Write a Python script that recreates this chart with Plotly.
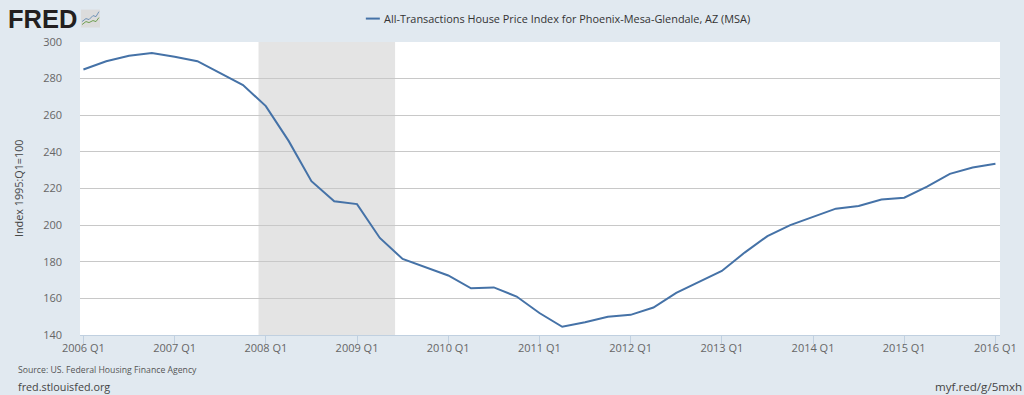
import plotly.graph_objects as go

years = list(range(2006, 2017))
quarters = [f"{y} Q{q}" for y in years for q in (1, 2, 3, 4)][:41]
values = [285, 289.5, 292.5, 294,
          292, 289.5, 283, 276.5,
          265, 246, 224, 213,
          211.5, 193, 181.5, 177,
          172.5, 165.5, 166, 161,
          152, 144.5, 147, 150,
          151, 155, 163, 169,
          175, 185, 194, 200,
          204.5, 209, 210.5, 214,
          215, 221, 228, 231.5,
          233.5]
tick_labels = [f"{y} Q1" for y in years]
y_ticks = [140, 160, 180, 200, 220, 240, 260, 280, 300]
recession_start = 7.68
recession_end = 13.67
series_name = "All-Transactions House Price Index for Phoenix-Mesa-Glendale, AZ (MSA)"

W, H = 1024, 395
L, R, T, B = 80, 1000.5, 41.5, 335.5
FONT = "Open Sans"
BG = "#e1e9f0"

fig = go.Figure()
fig.add_trace(go.Scatter(x=quarters, y=values, mode="lines", name=series_name,
                         line=dict(color="#4572a7", width=2), showlegend=False))

fig.add_shape(type="rect", xref="x", yref="paper", x0=recession_start, x1=recession_end, y0=0, y1=1,
              fillcolor="#e4e4e4", line_width=0, layer="below")

# legend key + title
fig.add_shape(type="line", xref="paper", yref="paper",
              x0=(366 - L) / (R - L), x1=(380 - L) / (R - L),
              y0=(B - 18) / (B - T), y1=(B - 18) / (B - T),
              line=dict(color="#4572a7", width=2))
def ann(text, px, py, size, color, anchor="left", **kw):
    fig.add_annotation(text=text, xref="paper", yref="paper",
                       x=(px - L) / (R - L), y=(B - py) / (B - T),
                       xanchor=anchor, yanchor="middle", showarrow=False,
                       font=dict(family=kw.pop("family", FONT), size=size, color=color), **kw)

ann(series_name, 382, 18, 10.9, "#333333")
ann("<b>FRED</b>", 6, 18, 25.5, "#231f20", family="Liberation Sans")
ann("Source: US. Federal Housing Finance Agency", 16, 371, 8.7, "#555555")
ann("fred.stlouisfed.org", 16, 387, 10.8, "#444444")
ann("myf.red/g/5mxh", 1025, 387, 11.6, "#444444", anchor="right")
ann("Index 1995:Q1=100", 18, 188, 10.8, "#444444", textangle=-90, anchor="center")

# FRED logo icon
fig.add_shape(type="rect", xref="paper", yref="paper",
              x0=(81 - L) / (R - L), x1=(100 - L) / (R - L),
              y0=(B - 27) / (B - T), y1=(B - 9) / (B - T),
              fillcolor="#dcdcdc", line_width=0, layer="above")
def icon_path(pts):
    return "M " + " L ".join(f"{(x - L) / (R - L):.4f},{(B - y) / (B - T):.4f}" for x, y in pts)
fig.add_shape(type="path", xref="paper", yref="paper", path=icon_path([(82, 21), (86, 18), (89, 19), (93, 15), (96, 16), (99, 11)]),
              line=dict(color="#6f93b8", width=1))
fig.add_shape(type="path", xref="paper", yref="paper", path=icon_path([(82, 24), (86, 21), (89, 22), (93, 20), (96, 21), (99, 17)]),
              line=dict(color="#6f9f50", width=1))

fig.update_layout(
    width=W, height=H, autosize=False,
    paper_bgcolor=BG, plot_bgcolor="#ffffff",
    margin=dict(l=L, r=W - R, t=T, b=H - B, autoexpand=False),
    font=dict(family=FONT, size=11, color="#666666"),
    showlegend=False,
    xaxis=dict(type="category", range=[-0.15, 40.2], tickmode="array",
               tickvals=tick_labels, ticktext=tick_labels,
               ticks="outside", ticklen=8, tickcolor="#c0d0e0", tickwidth=1,
               showgrid=False, showline=True, linecolor="#c0d0e0", linewidth=1,
               tickangle=0, tickfont=dict(size=11, color="#666666"), zeroline=False,
               ticklabelstandoff=-5),
    yaxis=dict(range=[140, 300], tickmode="array", tickvals=y_ticks,
               showgrid=True, gridcolor="#c8c8c8", gridwidth=1, zeroline=False,
               showline=False, ticks="", ticklabelstandoff=17,
               tickfont=dict(size=11, color="#666666")),
)
fig.write_html("out.html", config=dict(displayModeBar=False),
               post_script="document.body.style.margin='0';document.documentElement.style.overflow='hidden';")
